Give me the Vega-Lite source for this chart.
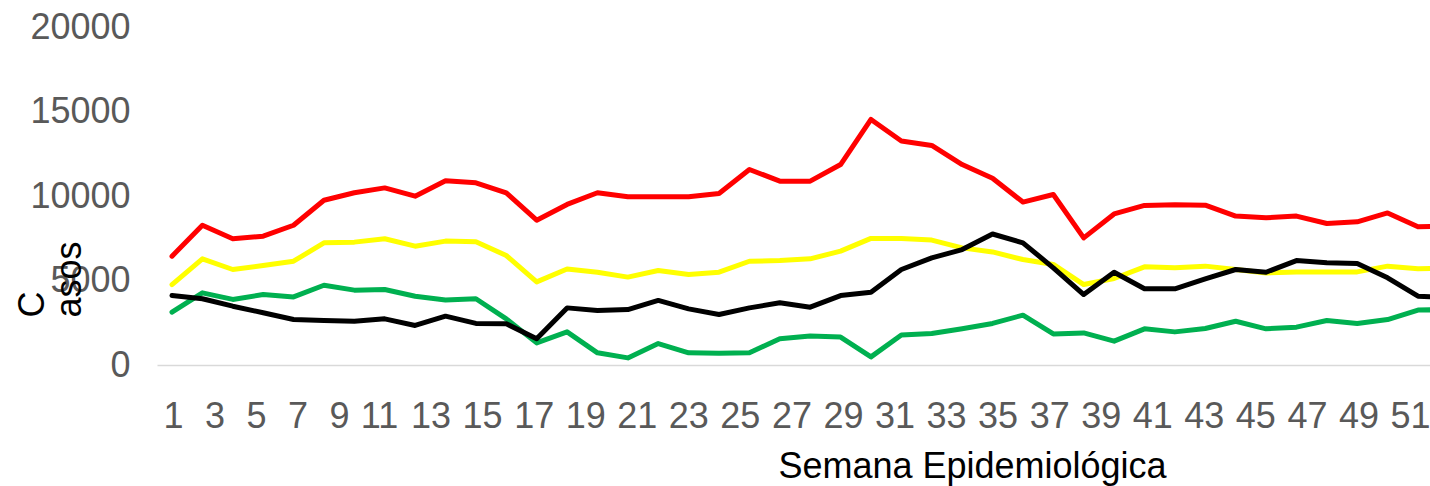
{
  "$schema": "https://vega.github.io/schema/vega-lite/v6.json",
  "autosize": "none",
  "width": 1273,
  "height": 338,
  "padding": {"left": 157, "top": 27, "right": 0, "bottom": 121},
  "config": {
    "font": "Liberation Sans",
    "view": {"stroke": null},
    "axis": {"labelFont": "Liberation Sans", "titleFont": "Liberation Sans"}
  },
  "data": {
    "values": [
      {"semana":1,"serie":"Rojo","casos":6440},{"semana":2,"serie":"Rojo","casos":8270},{"semana":3,"serie":"Rojo","casos":7470},{"semana":4,"serie":"Rojo","casos":7620},{"semana":5,"serie":"Rojo","casos":8270},{"semana":6,"serie":"Rojo","casos":9750},{"semana":7,"serie":"Rojo","casos":10190},{"semana":8,"serie":"Rojo","casos":10480},{"semana":9,"serie":"Rojo","casos":9990},{"semana":10,"serie":"Rojo","casos":10900},{"semana":11,"serie":"Rojo","casos":10780},{"semana":12,"serie":"Rojo","casos":10190},{"semana":13,"serie":"Rojo","casos":8570},{"semana":14,"serie":"Rojo","casos":9500},{"semana":15,"serie":"Rojo","casos":10190},{"semana":16,"serie":"Rojo","casos":9950},{"semana":17,"serie":"Rojo","casos":9950},{"semana":18,"serie":"Rojo","casos":9950},{"semana":19,"serie":"Rojo","casos":10150},{"semana":20,"serie":"Rojo","casos":11570},{"semana":21,"serie":"Rojo","casos":10880},{"semana":22,"serie":"Rojo","casos":10880},{"semana":23,"serie":"Rojo","casos":11860},{"semana":24,"serie":"Rojo","casos":14530},{"semana":25,"serie":"Rojo","casos":13250},{"semana":26,"serie":"Rojo","casos":12990},{"semana":27,"serie":"Rojo","casos":11860},{"semana":28,"serie":"Rojo","casos":11050},{"semana":29,"serie":"Rojo","casos":9640},{"semana":30,"serie":"Rojo","casos":10090},{"semana":31,"serie":"Rojo","casos":7520},{"semana":32,"serie":"Rojo","casos":8940},{"semana":33,"serie":"Rojo","casos":9440},{"semana":34,"serie":"Rojo","casos":9480},{"semana":35,"serie":"Rojo","casos":9460},{"semana":36,"serie":"Rojo","casos":8810},{"semana":37,"serie":"Rojo","casos":8710},{"semana":38,"serie":"Rojo","casos":8810},{"semana":39,"serie":"Rojo","casos":8370},{"semana":40,"serie":"Rojo","casos":8470},{"semana":41,"serie":"Rojo","casos":9000},{"semana":42,"serie":"Rojo","casos":8180},{"semana":43,"serie":"Rojo","casos":8200},
      {"semana":1,"serie":"Amarillo","casos":4760},{"semana":2,"serie":"Amarillo","casos":6280},{"semana":3,"serie":"Amarillo","casos":5650},{"semana":4,"serie":"Amarillo","casos":5890},{"semana":5,"serie":"Amarillo","casos":6140},{"semana":6,"serie":"Amarillo","casos":7230},{"semana":7,"serie":"Amarillo","casos":7270},{"semana":8,"serie":"Amarillo","casos":7470},{"semana":9,"serie":"Amarillo","casos":7030},{"semana":10,"serie":"Amarillo","casos":7330},{"semana":11,"serie":"Amarillo","casos":7290},{"semana":12,"serie":"Amarillo","casos":6480},{"semana":13,"serie":"Amarillo","casos":4920},{"semana":14,"serie":"Amarillo","casos":5680},{"semana":15,"serie":"Amarillo","casos":5490},{"semana":16,"serie":"Amarillo","casos":5200},{"semana":17,"serie":"Amarillo","casos":5590},{"semana":18,"serie":"Amarillo","casos":5360},{"semana":19,"serie":"Amarillo","casos":5490},{"semana":20,"serie":"Amarillo","casos":6140},{"semana":21,"serie":"Amarillo","casos":6180},{"semana":22,"serie":"Amarillo","casos":6280},{"semana":23,"serie":"Amarillo","casos":6740},{"semana":24,"serie":"Amarillo","casos":7490},{"semana":25,"serie":"Amarillo","casos":7490},{"semana":26,"serie":"Amarillo","casos":7390},{"semana":27,"serie":"Amarillo","casos":6930},{"semana":28,"serie":"Amarillo","casos":6690},{"semana":29,"serie":"Amarillo","casos":6240},{"semana":30,"serie":"Amarillo","casos":5950},{"semana":31,"serie":"Amarillo","casos":4760},{"semana":32,"serie":"Amarillo","casos":5120},{"semana":33,"serie":"Amarillo","casos":5810},{"semana":34,"serie":"Amarillo","casos":5750},{"semana":35,"serie":"Amarillo","casos":5850},{"semana":36,"serie":"Amarillo","casos":5650},{"semana":37,"serie":"Amarillo","casos":5450},{"semana":38,"serie":"Amarillo","casos":5510},{"semana":39,"serie":"Amarillo","casos":5510},{"semana":40,"serie":"Amarillo","casos":5510},{"semana":41,"serie":"Amarillo","casos":5850},{"semana":42,"serie":"Amarillo","casos":5690},{"semana":43,"serie":"Amarillo","casos":5750},
      {"semana":1,"serie":"Verde","casos":3130},{"semana":2,"serie":"Verde","casos":4270},{"semana":3,"serie":"Verde","casos":3880},{"semana":4,"serie":"Verde","casos":4170},{"semana":5,"serie":"Verde","casos":4030},{"semana":6,"serie":"Verde","casos":4720},{"semana":7,"serie":"Verde","casos":4430},{"semana":8,"serie":"Verde","casos":4470},{"semana":9,"serie":"Verde","casos":4070},{"semana":10,"serie":"Verde","casos":3840},{"semana":11,"serie":"Verde","casos":3920},{"semana":12,"serie":"Verde","casos":2730},{"semana":13,"serie":"Verde","casos":1310},{"semana":14,"serie":"Verde","casos":1960},{"semana":15,"serie":"Verde","casos":720},{"semana":16,"serie":"Verde","casos":420},{"semana":17,"serie":"Verde","casos":1270},{"semana":18,"serie":"Verde","casos":720},{"semana":19,"serie":"Verde","casos":700},{"semana":20,"serie":"Verde","casos":720},{"semana":21,"serie":"Verde","casos":1550},{"semana":22,"serie":"Verde","casos":1710},{"semana":23,"serie":"Verde","casos":1650},{"semana":24,"serie":"Verde","casos":480},{"semana":25,"serie":"Verde","casos":1770},{"semana":26,"serie":"Verde","casos":1860},{"semana":27,"serie":"Verde","casos":2140},{"semana":28,"serie":"Verde","casos":2460},{"semana":29,"serie":"Verde","casos":2950},{"semana":30,"serie":"Verde","casos":1840},{"semana":31,"serie":"Verde","casos":1900},{"semana":32,"serie":"Verde","casos":1410},{"semana":33,"serie":"Verde","casos":2140},{"semana":34,"serie":"Verde","casos":1960},{"semana":35,"serie":"Verde","casos":2160},{"semana":36,"serie":"Verde","casos":2590},{"semana":37,"serie":"Verde","casos":2140},{"semana":38,"serie":"Verde","casos":2240},{"semana":39,"serie":"Verde","casos":2630},{"semana":40,"serie":"Verde","casos":2460},{"semana":41,"serie":"Verde","casos":2690},{"semana":42,"serie":"Verde","casos":3250},{"semana":43,"serie":"Verde","casos":3280},
      {"semana":1,"serie":"Negro","casos":4110},{"semana":2,"serie":"Negro","casos":3920},{"semana":3,"serie":"Negro","casos":3480},{"semana":4,"serie":"Negro","casos":3090},{"semana":5,"serie":"Negro","casos":2690},{"semana":6,"serie":"Negro","casos":2630},{"semana":7,"serie":"Negro","casos":2590},{"semana":8,"serie":"Negro","casos":2730},{"semana":9,"serie":"Negro","casos":2340},{"semana":10,"serie":"Negro","casos":2890},{"semana":11,"serie":"Negro","casos":2460},{"semana":12,"serie":"Negro","casos":2440},{"semana":13,"serie":"Negro","casos":1550},{"semana":14,"serie":"Negro","casos":3380},{"semana":15,"serie":"Negro","casos":3230},{"semana":16,"serie":"Negro","casos":3280},{"semana":17,"serie":"Negro","casos":3820},{"semana":18,"serie":"Negro","casos":3320},{"semana":19,"serie":"Negro","casos":2990},{"semana":20,"serie":"Negro","casos":3380},{"semana":21,"serie":"Negro","casos":3680},{"semana":22,"serie":"Negro","casos":3420},{"semana":23,"serie":"Negro","casos":4110},{"semana":24,"serie":"Negro","casos":4310},{"semana":25,"serie":"Negro","casos":5650},{"semana":26,"serie":"Negro","casos":6340},{"semana":27,"serie":"Negro","casos":6830},{"semana":28,"serie":"Negro","casos":7750},{"semana":29,"serie":"Negro","casos":7230},{"semana":30,"serie":"Negro","casos":5750},{"semana":31,"serie":"Negro","casos":4170},{"semana":32,"serie":"Negro","casos":5490},{"semana":33,"serie":"Negro","casos":4510},{"semana":34,"serie":"Negro","casos":4510},{"semana":35,"serie":"Negro","casos":5100},{"semana":36,"serie":"Negro","casos":5650},{"semana":37,"serie":"Negro","casos":5490},{"semana":38,"serie":"Negro","casos":6180},{"semana":39,"serie":"Negro","casos":6050},{"semana":40,"serie":"Negro","casos":6010},{"semana":41,"serie":"Negro","casos":5160},{"semana":42,"serie":"Negro","casos":4070},{"semana":43,"serie":"Negro","casos":4000}
    ]
  },
  "layer": [
    {
      "mark": {"type": "line", "strokeWidth": 5, "strokeCap": "round", "strokeJoin": "round", "clip": true},
      "encoding": {
        "x": {"field": "semana", "type": "quantitative", "scale": {"domain": [1, 42], "range": [15, 1261]}, "axis": null},
        "y": {
          "field": "casos", "type": "quantitative",
          "scale": {"domain": [0, 20000], "nice": false, "zero": true},
          "axis": {
            "values": [0, 5000, 10000, 15000, 20000],
            "format": "d",
            "grid": false, "ticks": false, "domain": false,
            "labelFontSize": 36, "labelColor": "#595959", "labelPadding": 27,
            "title": ["C", "asos"],
            "titleFontSize": 36, "titleFontWeight": "normal", "titleColor": "#000000",
            "titleAngle": -90, "titleAlign": "left", "titleBaseline": "alphabetic",
            "titleLineHeight": 37, "titleX": -114, "titleY": 290
          }
        },
        "color": {
          "field": "serie", "type": "nominal",
          "scale": {"domain": ["Rojo", "Amarillo", "Verde", "Negro"], "range": ["#FF0000", "#FFFF00", "#00B050", "#000000"]},
          "legend": null
        },
        "order": {"field": "semana", "type": "quantitative"}
      }
    },
    {
      "mark": {"type": "tick", "opacity": 0},
      "encoding": {
        "x": {
          "field": "semana", "type": "quantitative",
          "scale": {"domain": [0.229, 1, 9, 11, 51, 51.776], "range": [0, 16, 182, 222, 1253, 1273]},
          "axis": {
            "orient": "bottom",
            "values": [1,3,5,7,9,11,13,15,17,19,21,23,25,27,29,31,33,35,37,39,41,43,45,47,49,51],
            "grid": false, "ticks": false,
            "domainColor": "#D9D9D9", "domainWidth": 1.5,
            "labelFontSize": 36, "labelColor": "#595959", "labelPadding": 62,
            "labelBaseline": "alphabetic", "labelOverlap": false, "labelFlush": false,
            "title": "Semana Epidemiológica",
            "titleFontSize": 36, "titleFontWeight": "normal", "titleColor": "#000000",
            "titleAlign": "center", "titleBaseline": "alphabetic",
            "titleX": 815, "titleY": 112
          }
        }
      }
    }
  ],
  "resolve": {"scale": {"x": "independent"}, "axis": {"x": "independent"}}
}
